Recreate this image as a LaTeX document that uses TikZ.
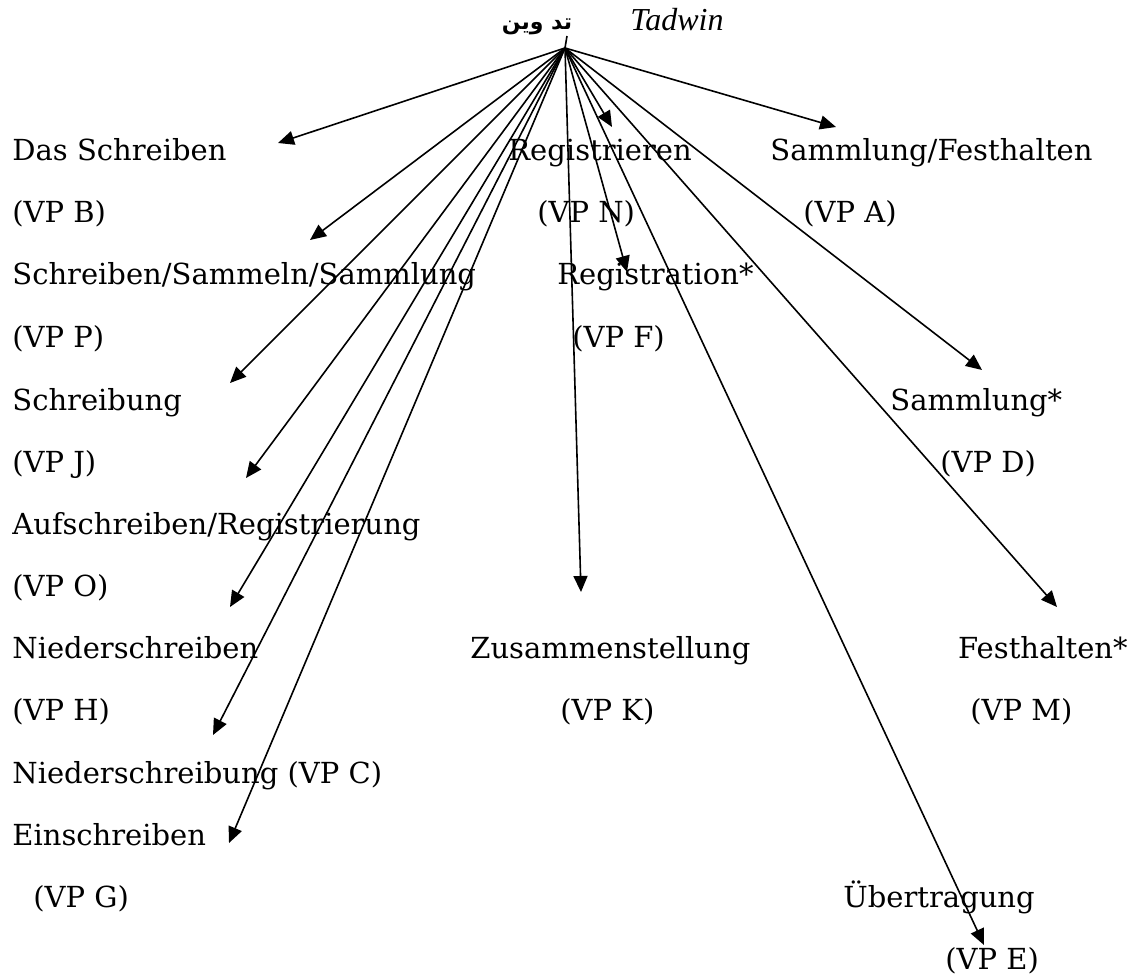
\documentclass[tikz,border=0pt]{standalone}
\usepackage{fontspec}
\setmainfont{DejaVu Serif}
\newfontfamily\arabicfont[Script=Arabic]{DejaVu Sans}
\newfontfamily\latinfont{Liberation Serif}
\TeXXeTstate=1
\usetikzlibrary{arrows.meta}

\begin{document}
\begin{tikzpicture}[x=0.5pt, y=-0.5pt, every node/.style={anchor=base west, inner sep=0pt, font=\fontsize{14.5}{17}\selectfont}, arr/.style={line width=0.8pt, -{Triangle[length=8pt,width=7pt]}}]
    \useasboundingbox (0,0) rectangle (1133,978);
    % title
    \node[anchor=base] (ar) at (537,30) {\arabicfont\bfseries\fontsize{11}{13}\selectfont\beginR تد وين\endR};
    \node (tw) at (630,31) {\latinfont\itshape\fontsize{16}{19}\selectfont Tadwin};
    \coordinate (top) at (567,36);
    \coordinate (hub) at (565,48);
    \draw[line width=0.8pt] (top) -- (hub);

    % left column
    \node (ds) at (12,161) {Das Schreiben};
    \node (vpb) at (12,223) {(VP B)};
    \node (ssm) at (12,285) {Schreiben/Sammeln/Sammlung};
    \node (vpp) at (12,347) {(VP P)};
    \node (sb) at (12,410) {Schreibung};
    \node (vpj) at (12,472) {(VP J)};
    \node (ar2) at (12,534) {Aufschreiben/Registrierung};
    \node (vpo) at (12,596) {(VP O)};
    \node (ns) at (12,658) {Niederschreiben};
    \node (vph) at (12,720) {(VP H)};
    \node (nsb) at (12,783) {Niederschreibung (VP C)};
    \node (es) at (12,845) {Einschreiben};
    \node (vpg) at (33,907) {(VP G)};

    % middle
    \node (rg) at (508,161) {Registrieren};
    \node (vpn) at (537,223) {(VP N)};
    \node (rt) at (557,285) {Registration*};
    \node (vpf) at (572,347) {(VP F)};
    \node (zs) at (470,658) {Zusammenstellung};
    \node (vpk) at (560,720) {(VP K)};

    % right
    \node (sf) at (770,161) {Sammlung/Festhalten};
    \node (vpa) at (803,223) {(VP A)};
    \node (sm) at (890,410) {Sammlung*};
    \node (vpd) at (940,472) {(VP D)};
    \node[anchor=base east] (fh) at (1128,658) {Festhalten*};
    \node (vpm) at (970,720) {(VP M)};
    \node (ut) at (843,907) {Übertragung};
    \node (vpe) at (945,969) {(VP E)};

    % arrow ends
    \coordinate (eds) at (278,143);
    \coordinate (essm) at (310,240);
    \coordinate (esb) at (230,383);
    \coordinate (ear) at (246,478);
    \coordinate (ens) at (230,607);
    \coordinate (ensb) at (213,735);
    \coordinate (ees) at (229,843);
    \coordinate (ezs) at (581,592);
    \coordinate (erg) at (612,127);
    \coordinate (ert) at (627,272);
    \coordinate (eut) at (984,945);
    \coordinate (esm) at (982,370);
    \coordinate (efh) at (1057,607);
    \coordinate (esf) at (836,127);

    \draw[arr] (hub) -- (eds);
    \draw[arr] (hub) -- (essm);
    \draw[arr] (hub) -- (esb);
    \draw[arr] (hub) -- (ear);
    \draw[arr] (hub) -- (ens);
    \draw[arr] (hub) -- (ensb);
    \draw[arr] (hub) -- (ees);
    \draw[arr] (hub) -- (ezs);
    \draw[arr] (hub) -- (erg);
    \draw[arr] (hub) -- (ert);
    \draw[arr] (hub) -- (eut);
    \draw[arr] (hub) -- (esm);
    \draw[arr] (hub) -- (efh);
    \draw[arr] (hub) -- (esf);
\end{tikzpicture}
\end{document}
